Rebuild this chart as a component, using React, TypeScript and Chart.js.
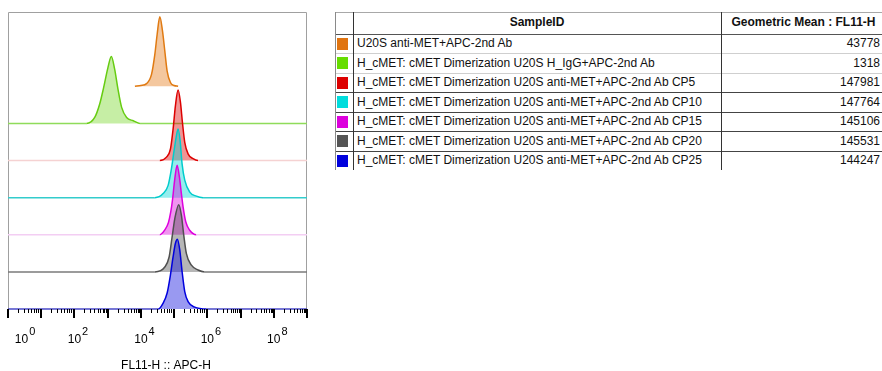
import React, { useEffect, useRef } from "react";
import { Chart, registerables } from "chart.js";

Chart.register(...registerables);

// ---------- table data ----------
const sampleNames = [
  "U20S anti-MET+APC-2nd Ab",
  "H_cMET: cMET Dimerization U20S H_IgG+APC-2nd Ab",
  "H_cMET: cMET Dimerization U20S anti-MET+APC-2nd Ab CP5",
  "H_cMET: cMET Dimerization U20S anti-MET+APC-2nd Ab CP10",
  "H_cMET: cMET Dimerization U20S anti-MET+APC-2nd Ab CP15",
  "H_cMET: cMET Dimerization U20S anti-MET+APC-2nd Ab CP20",
  "H_cMET: cMET Dimerization U20S anti-MET+APC-2nd Ab CP25",
];
const geometricMeans = [43778, 1318, 147981, 147764, 145106, 145531, 144247];
const swatchColors = ["#e07410", "#66dd00", "#dd0000", "#00dddd", "#dd00dd", "#555555", "#0000dd"];
const lineColors = ["#e07a12", "#66cc11", "#dd0000", "#00cccc", "#dd00dd", "#505050", "#0000dd"];
const fillColors = [
  "rgba(230,130,40,0.45)",
  "rgba(120,215,40,0.42)",
  "rgba(220,0,0,0.42)",
  "rgba(0,215,215,0.42)",
  "rgba(220,0,220,0.42)",
  "rgba(80,80,80,0.42)",
  "rgba(0,0,220,0.40)",
];
const baselineColors = [null, "#8fdc5a", "#f5d2d2", "#33cccc", "#f3cef3", "#7a7a7a", "#4a4ac8"];
const laneOffsets = [6, 5, 4, 3, 2, 1, 0];
const decadeLabels = [0, 2, 4, 6, 8];
const axisTitle = "FL11-H :: APC-H";
const headerSample = "SampleID";
const headerValue = "Geometric Mean : FL11-H";

// ---------- histogram data (log10 of FL11-H, mode-normalised count) ----------
const orangeLog = [3.82, 4.0, 4.17, 4.32, 4.42, 4.49, 4.57, 4.65, 4.72, 4.79, 4.89, 5.0, 5.12];
const orangeCount = [0, 0.02, 0.07, 0.32, 0.86, 1.4, 1.87, 1.49, 0.95, 0.41, 0.1, 0.02, 0];

const greenLog = [0, 2.36, 2.61, 2.76, 2.88, 3.01, 3.11, 3.21, 3.31, 3.42, 3.57, 3.77, 3.97, 9];
const greenCount = [0, 0, 0.16, 0.52, 0.97, 1.51, 1.8, 1.46, 0.92, 0.43, 0.16, 0.07, 0, 0];

const redLog = [0, 4.57, 4.77, 4.89, 4.97, 5.04, 5.12, 5.19, 5.25, 5.32, 5.42, 5.57, 5.72, 9];
const redCount = [0, 0, 0.09, 0.31, 0.85, 1.48, 1.9, 1.57, 1.03, 0.49, 0.18, 0.05, 0, 0];

const cyanLog = [0, 4.42, 4.67, 4.82, 4.92, 5.0, 5.07, 5.12, 5.18, 5.24, 5.32, 5.47, 5.67, 5.87, 9];
const cyanCount = [0, 0, 0.11, 0.33, 0.78, 1.27, 1.67, 1.85, 1.54, 0.91, 0.47, 0.15, 0.04, 0, 0];

const magentaLog = [0, 4.57, 4.72, 4.83, 4.9, 4.95, 5.02, 5.09, 5.16, 5.22, 5.27, 5.35, 5.47, 5.67, 9];
const magentaCount = [0, 0, 0.13, 0.33, 0.62, 0.93, 1.5, 1.87, 1.55, 1.1, 0.75, 0.35, 0.12, 0, 0];

const greyLog = [0, 4.42, 4.72, 4.85, 4.94, 5.02, 5.14, 5.22, 5.29, 5.37, 5.52, 5.72, 5.92, 9];
const greyCount = [0, 0, 0.13, 0.4, 0.94, 1.43, 1.81, 1.52, 0.99, 0.49, 0.18, 0.05, 0, 0];

const blueLog = [0, 4.52, 4.67, 4.79, 4.89, 4.97, 5.04, 5.1, 5.17, 5.24, 5.32, 5.42, 5.62, 5.98, 9];
const blueCount = [0, 0, 0.16, 0.43, 0.92, 1.41, 1.77, 1.88, 1.59, 1.01, 0.47, 0.2, 0.05, 0, 0];

const seriesLogs = [orangeLog, greenLog, redLog, cyanLog, magentaLog, greyLog, blueLog];
const seriesCounts = [orangeCount, greenCount, redCount, cyanCount, magentaCount, greyCount, blueCount];

const FONT = '"Liberation Sans", Arial, Helvetica, sans-serif';

const axisPlugin = {
  id: "flowAxis",
  beforeDatasetsDraw(chart: any) {
    const { ctx, chartArea: a } = chart;
    ctx.save();
    ctx.strokeStyle = "#a0a0a0";
    ctx.lineWidth = 1;
    ctx.beginPath();
    ctx.moveTo(a.left + 0.5, a.bottom);
    ctx.lineTo(a.left + 0.5, a.top + 0.5);
    ctx.lineTo(a.right - 0.5, a.top + 0.5);
    ctx.lineTo(a.right - 0.5, a.bottom);
    ctx.stroke();
    ctx.restore();
  },
  afterDraw(chart: any) {
    const { ctx, chartArea: a } = chart;
    const xs = chart.scales.x;
    ctx.save();
    ctx.strokeStyle = "#000";
    const drawTick = (v: number, major: boolean) => {
      const px = Math.round(xs.getPixelForValue(v));
      ctx.lineWidth = major ? 2 : 1;
      ctx.beginPath();
      ctx.moveTo(major ? px : px + 0.5, a.bottom);
      ctx.lineTo(major ? px : px + 0.5, a.bottom + (major ? 9 : 4));
      ctx.stroke();
    };
    for (let d = 0; d < 9; d++) {
      for (let k = 1; k <= 9; k++) drawTick(k * Math.pow(10, d), k === 1);
    }
    drawTick(1e9, true);

    ctx.fillStyle = "#000";
    ctx.textBaseline = "alphabetic";
    decadeLabels.forEach((d) => {
      let px = xs.getPixelForValue(Math.pow(10, d));
      px = Math.max(px, a.left + 13.5);
      ctx.font = `12px ${FONT}`;
      ctx.textAlign = "center";
      ctx.fillText("10", px, 343);
      const w = ctx.measureText("10").width;
      ctx.font = `11px ${FONT}`;
      ctx.textAlign = "left";
      ctx.fillText(String(d), px + w / 2 + 1, 335);
    });
    ctx.font = `12px ${FONT}`;
    ctx.textAlign = "center";
    ctx.fillText(axisTitle, 166, 369);
    ctx.restore();
  },
};

function Histogram() {
  const ref = useRef<HTMLCanvasElement | null>(null);
  useEffect(() => {
    if (!ref.current) return;
    const datasets = seriesLogs.map((logs, i) => {
      const off = laneOffsets[i];
      const base = baselineColors[i];
      const line = lineColors[i];
      return {
        label: sampleNames[i],
        data: logs.map((lx, j) => ({ x: Math.pow(10, lx), y: off + seriesCounts[i][j] })),
        borderColor: line,
        backgroundColor: fillColors[i],
        borderWidth: 1.5,
        pointRadius: 0,
        cubicInterpolationMode: "monotone",
        fill: { value: off },
        order: off,
        clip: 6,
        segment: {
          borderColor: (c: any) =>
            base && c.p0.parsed.y === off && c.p1.parsed.y === off ? base : line,
        },
      };
    });
    const chart = new Chart(ref.current, {
      type: "line",
      data: { datasets } as any,
      options: {
        responsive: false,
        animation: false,
        devicePixelRatio: 1,
        layout: { padding: { left: 8, top: 12, right: 13, bottom: 62 } },
        plugins: { legend: { display: false }, tooltip: { enabled: false } },
        scales: {
          x: { type: "logarithmic", min: 1, max: 1e9, display: false },
          y: { type: "linear", min: 0, max: 8, display: false },
        },
      } as any,
      plugins: [axisPlugin],
    });
    return () => chart.destroy();
  }, []);
  return (
    <canvas
      ref={ref}
      width={320}
      height={371}
      style={{ position: "absolute", left: 0, top: 0, width: 320, height: 371 }}
    />
  );
}

function StatsTable() {
  const top = 12;
  const headerBottom = 33.5;
  const rowH = 19.5;
  const left = 335;
  const c1 = 353;
  const c2 = 721;
  const right = 882;
  const bottom = headerBottom + rowH * sampleNames.length;
  const sepColors = ["#cfcfcf", "#cfcfcf", "#444", "#444", "#444", "#444"];
  const textStyle: React.CSSProperties = {
    position: "absolute",
    font: `12px ${FONT}`,
    color: "#111",
    whiteSpace: "nowrap",
    lineHeight: `${rowH}px`,
  };
  return (
    <div>
      {/* horizontal lines */}
      <div style={{ position: "absolute", left, top, width: right - left, height: 1, background: "#a8a8a8" }} />
      <div style={{ position: "absolute", left, top: headerBottom, width: right - left, height: 1, background: "#555" }} />
      {sepColors.map((c, i) => (
        <div
          key={"h" + i}
          style={{ position: "absolute", left, top: headerBottom + rowH * (i + 1), width: right - left, height: 1, background: c }}
        />
      ))}
      {/* vertical lines */}
      <div style={{ position: "absolute", left, top, width: 1, height: bottom - top, background: "#8a8a8a" }} />
      <div style={{ position: "absolute", left: c1, top, width: 1, height: bottom - top, background: "#333" }} />
      <div style={{ position: "absolute", left: c2, top, width: 1, height: bottom - top, background: "#333" }} />
      {/* header */}
      <div
        style={{ ...textStyle, left: c1, width: c2 - c1, top, lineHeight: `${headerBottom - top}px`, textAlign: "center", fontWeight: "bold" }}
      >
        {headerSample}
      </div>
      <div
        style={{ ...textStyle, left: c2 + 1, width: 163, top, lineHeight: `${headerBottom - top}px`, textAlign: "center", fontWeight: "bold" }}
      >
        {headerValue}
      </div>
      {sampleNames.map((name, i) => {
        const y = headerBottom + rowH * i + 0.5;
        return (
          <React.Fragment key={name}>
            <div
              style={{ position: "absolute", left: 337, top: y + 3.5, width: 11, height: 12, background: swatchColors[i] }}
            />
            <div style={{ ...textStyle, left: c1 + 4, top: y }}>{name}</div>
            <div style={{ ...textStyle, left: c2, width: 880 - c2, top: y, textAlign: "right" }}>
              {String(geometricMeans[i])}
            </div>
          </React.Fragment>
        );
      })}
    </div>
  );
}

export default function App() {
  return (
    <div style={{ position: "absolute", left: 0, top: 0, width: 882, height: 371, overflow: "hidden", background: "#fff" }}>
      <Histogram />
      <StatsTable />
    </div>
  );
}
